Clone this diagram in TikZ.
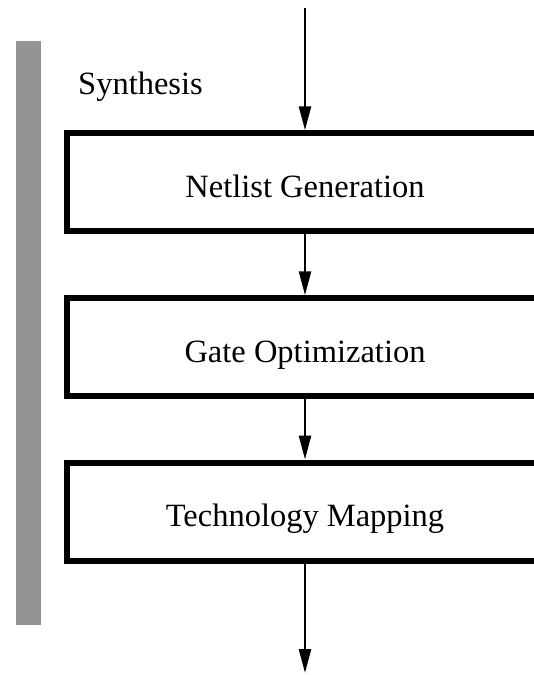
\documentclass[tikz,border=0pt]{standalone}
\usepackage{fontspec}
\setmainfont{Liberation Serif}
\usetikzlibrary{arrows.meta}
\begin{document}
\begin{tikzpicture}[x=1pt,y=-1pt,
  stage/.style={draw, line width=6pt, minimum width=477pt, minimum height=98pt, inner sep=0pt, text height=30pt, text depth=0pt, font=\fontsize{32.5}{36}\selectfont},
  flow/.style={line width=2.6pt, -{Triangle[length=24pt,width=12pt]}},
  lbl/.style={font=\fontsize{32.5}{36}\selectfont, inner sep=0pt},
  band/.style={fill=black!42}]
\useasboundingbox (0,0) rectangle (534,675);
\clip (0,0) rectangle (534,675);
\fill[band] (16,41) rectangle (41,625);
\node[lbl, anchor=base west] (syn) at (78,94) {Synthesis};
\coordinate (in) at (305,8);
\node[stage] (net) at (305,182.25) {Netlist Generation};
\node[stage] (gate) at (305,347.25) {Gate Optimization};
\node[stage] (tech) at (305,511.5) {Technology Mapping};
\coordinate (out) at (305,673);
\draw[flow] (in) -- (net);
\draw[flow] (net) -- (gate);
\draw[flow] (gate) -- (tech);
\draw[flow] (tech) -- (out);
\end{tikzpicture}
\end{document}
